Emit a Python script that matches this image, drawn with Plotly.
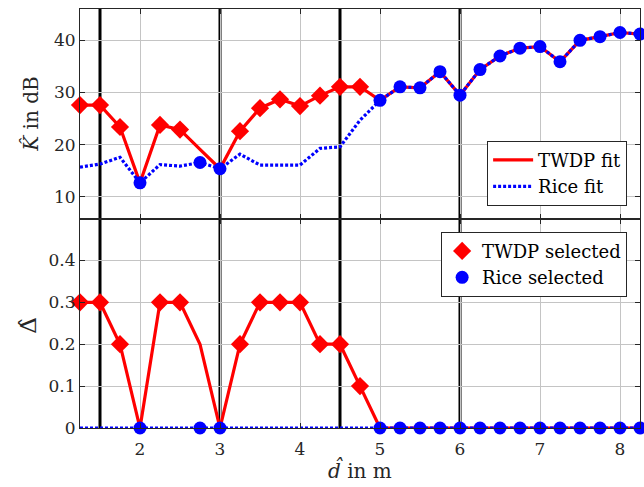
import plotly.graph_objects as go

# ---- data ----
d_m = [1.25, 1.5, 1.75, 2.0, 2.25, 2.5, 2.75, 3.0, 3.25, 3.5, 3.75, 4.0, 4.25, 4.5, 4.75,
       5.0, 5.25, 5.5, 5.75, 6.0, 6.25, 6.5, 6.75, 7.0, 7.25, 7.5, 7.75, 8.0, 8.25]
K_twdp = [27.6, 27.6, 23.4, 12.7, 23.8, 22.9, 19.1, 15.4, 22.6, 27.0, 28.7, 27.4, 29.4, 31.1, 31.1,
          28.5, 31.1, 30.9, 34.0, 29.5, 34.4, 37.0, 38.5, 38.8, 35.9, 40.0, 40.7, 41.5, 41.2]
K_rice = [15.7, 16.3, 17.6, 12.7, 16.2, 15.9, 16.6, 15.4, 18.2, 16.1, 16.1, 16.1, 19.3, 19.6, 24.7,
          28.5, 31.1, 30.9, 34.0, 29.5, 34.4, 37.0, 38.5, 38.8, 35.9, 40.0, 40.7, 41.5, 41.2]
D_twdp = [0.3, 0.3, 0.2, 0.0, 0.3, 0.3, 0.2, 0.0, 0.2, 0.3, 0.3, 0.3, 0.2, 0.2, 0.1,
          0.0, 0.0, 0.0, 0.0, 0.0, 0.0, 0.0, 0.0, 0.0, 0.0, 0.0, 0.0, 0.0, 0.0]
D_rice = [0.0] * len(d_m)
selected = ['T', 'T', 'T', 'R', 'T', 'T', 'R', 'R', 'T', 'T', 'T', 'T', 'T', 'T', 'T',
            'R', 'R', 'R', 'R', 'R', 'R', 'R', 'R', 'R', 'R', 'R', 'R', 'R', 'R']
boundaries = [1.5, 3.0, 4.5, 6.0]
x_ticks = [2, 3, 4, 5, 6, 7, 8]
k_ticks = [10, 20, 30, 40]
d_ticks = [0, 0.1, 0.2, 0.3, 0.4]

RED = '#ff0000'
BLUE = '#0000ff'
AX = '#262626'
GRID = '#c4c4c4'
FONT = 'DejaVu Serif, Liberation Serif, serif'

t_idx = [i for i, s in enumerate(selected) if s == 'T']
r_idx = [i for i, s in enumerate(selected) if s == 'R']

fig = go.Figure()

line_red = dict(color=RED, width=3.2)
line_blue = dict(color=BLUE, width=3.2, dash='3px,2px')

# top panel
fig.add_trace(go.Scatter(x=d_m, y=K_twdp, mode='lines', line=line_red, name='TWDP fit',
                         legend='legend', xaxis='x', yaxis='y'))
fig.add_trace(go.Scatter(x=d_m, y=K_rice, mode='lines', line=line_blue, name='Rice fit',
                         legend='legend', xaxis='x', yaxis='y'))
fig.add_trace(go.Scatter(x=[d_m[i] for i in t_idx], y=[K_twdp[i] for i in t_idx], mode='markers',
                         marker=dict(symbol='diamond', size=14, color=RED), showlegend=False,
                         xaxis='x', yaxis='y', cliponaxis=False))
fig.add_trace(go.Scatter(x=[d_m[i] for i in r_idx], y=[K_rice[i] for i in r_idx], mode='markers',
                         marker=dict(symbol='circle', size=13, color=BLUE), showlegend=False,
                         xaxis='x', yaxis='y', cliponaxis=False))

# bottom panel
fig.add_trace(go.Scatter(x=d_m, y=D_twdp, mode='lines', line=line_red, showlegend=False,
                         xaxis='x2', yaxis='y2', cliponaxis=False))
fig.add_trace(go.Scatter(x=d_m, y=D_rice, mode='lines', line=line_blue, showlegend=False,
                         xaxis='x2', yaxis='y2', cliponaxis=False))
fig.add_trace(go.Scatter(x=[d_m[i] for i in t_idx], y=[D_twdp[i] for i in t_idx], mode='markers',
                         marker=dict(symbol='diamond', size=14, color=RED), name='TWDP selected',
                         legend='legend2', xaxis='x2', yaxis='y2', cliponaxis=False))
fig.add_trace(go.Scatter(x=[d_m[i] for i in r_idx], y=[D_rice[i] for i in r_idx], mode='markers',
                         marker=dict(symbol='circle', size=13, color=BLUE), name='Rice selected',
                         legend='legend2', xaxis='x2', yaxis='y2', cliponaxis=False))

shapes = []
for b in boundaries:
    shapes.append(dict(type='line', xref='x', yref='paper', x0=b, x1=b, y0=0, y1=1,
                       line=dict(color='black', width=3), layer='between'))

axis_common = dict(showline=True, linecolor=AX, linewidth=1, mirror='ticks', ticks='inside',
                   ticklen=5, tickcolor=AX, showgrid=True, gridcolor=GRID, gridwidth=1,
                   zeroline=False, tickfont=dict(family=FONT, size=17, color=AX))

fig.update_layout(
    width=644, height=487,
    margin=dict(l=80, r=4, t=9, b=59),
    paper_bgcolor='white', plot_bgcolor='white',
    font=dict(family=FONT, color=AX),
    xaxis=dict(domain=[0, 1], anchor='y', range=[1.25, 8.25], tickvals=x_ticks,
               showticklabels=False, **axis_common),
    yaxis=dict(domain=[0.5, 1], anchor='x', range=[5.87, 46], tickvals=k_ticks, **axis_common),
    xaxis2=dict(domain=[0, 1], anchor='y2', range=[1.25, 8.25], tickvals=x_ticks,
                matches='x', ticklabelstandoff=6, **axis_common),
    yaxis2=dict(domain=[0, 0.5], anchor='x2', range=[0, 0.5], tickvals=d_ticks, **axis_common),
    shapes=shapes,
    legend=dict(x=0.977, y=0.5305, xanchor='right', yanchor='bottom', bgcolor='white',
                bordercolor=AX, borderwidth=1, font=dict(family=FONT, size=18, color='black'),
                tracegroupgap=0, itemwidth=40),
    legend2=dict(x=0.977, y=0.4685, xanchor='right', yanchor='top', bgcolor='white',
                 bordercolor=AX, borderwidth=1, font=dict(family=FONT, size=18, color='black'),
                 tracegroupgap=0, itemwidth=30),
    annotations=[
        dict(text='<i>K\u0302</i> in dB', xref='paper', yref='paper', x=-0.089, y=0.748,
             textangle=-90, showarrow=False, font=dict(family=FONT, size=20, color=AX),
             xanchor='center', yanchor='middle'),
        dict(text='\u0394\u0302', xref='paper', yref='paper', x=-0.093, y=0.2465,
             textangle=-90, showarrow=False, font=dict(family=FONT, size=23, color=AX),
             xanchor='center', yanchor='middle'),
        dict(text='<i>d\u0302</i> in m', xref='paper', yref='paper', x=0.5, y=-0.1,
             showarrow=False, font=dict(family=FONT, size=20, color=AX),
             xanchor='center', yanchor='middle'),
    ],
)

fig.write_html('out.html')
